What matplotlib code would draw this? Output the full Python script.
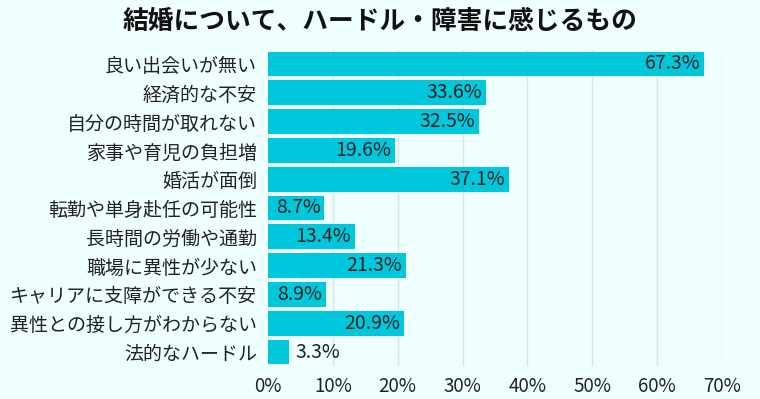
import matplotlib.pyplot as plt
import numpy as np

plt.rcParams['font.family'] = ['Noto Sans CJK JP', 'DejaVu Sans']

# data
categories = ["良い出会いが無い", "経済的な不安", "自分の時間が取れない", "家事や育児の負担増",
              "婚活が面倒", "転勤や単身赴任の可能性", "長時間の労働や通勤", "職場に異性が少ない",
              "キャリアに支障ができる不安", "異性との接し方がわからない", "法的なハードル"]
values = [67.3, 33.6, 32.5, 19.6, 37.1, 8.7, 13.4, 21.3, 8.9, 20.9, 3.3]
xticks = [0, 10, 20, 30, 40, 50, 60, 70]

bg = "#effefe"
bar_color = "#00c8dc"
text_color = "#222222"

fig = plt.figure(figsize=(7.6, 3.99), dpi=100, facecolor=bg)
ax = fig.add_axes([0.3526, 0.0817, 0.5974, 0.794])
ax.set_facecolor(bg)

y = np.arange(len(categories))
ax.barh(y, values, height=0.86, color=bar_color, zorder=2)

for yi, v in zip(y, values):
    label = f"{v}%"
    if v >= 5:
        ax.text(v - 0.6, yi, label, ha="right", va="center", fontsize=14,
                color=text_color, zorder=3)
    else:
        ax.text(v + 0.9, yi, label, ha="left", va="center", fontsize=14,
                color=text_color, zorder=3)

ax.set_xlim(0, 70)
ax.set_ylim(len(categories) - 0.5, -0.5)
ax.set_yticks(y)
ax.set_yticklabels(categories, fontsize=13.7, color=text_color)
ax.set_xticks(xticks)
ax.set_xticklabels([f"{t}%" for t in xticks], fontsize=13.5, color=text_color)
ax.tick_params(axis="both", length=0)
ax.tick_params(axis="y", pad=8)
ax.tick_params(axis="x", pad=7)
ax.grid(axis="x", color="#dde3e3", linewidth=1, zorder=0)
for s in ax.spines.values():
    s.set_visible(False)

fig.text(0.5, 0.945, "結婚について、ハードル・障害に感じるもの", ha="center", va="center",
         fontsize=18.5, fontweight="bold", color="#111111")

fig.savefig("out.png", dpi=100, facecolor=bg)
